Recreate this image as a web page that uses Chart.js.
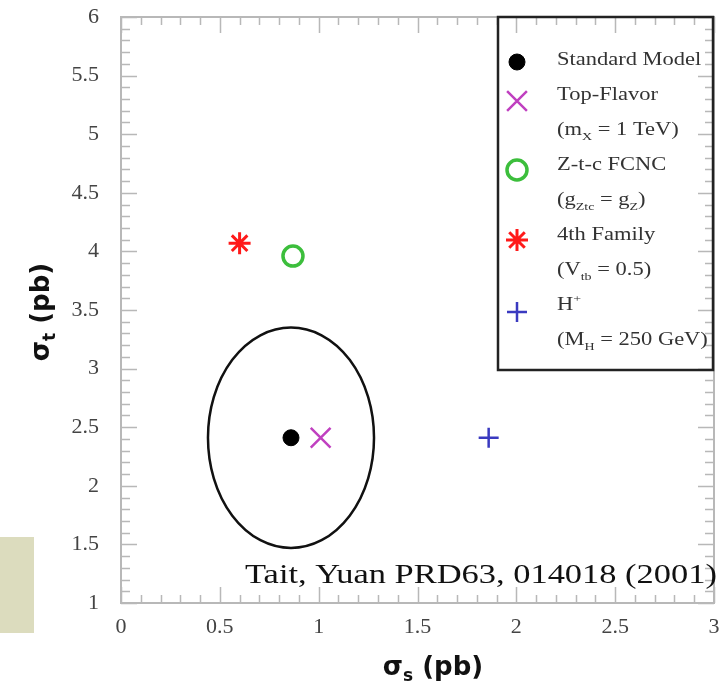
<!DOCTYPE html>
<html>
<head>
<meta charset="utf-8">
<title>sigma_s vs sigma_t</title>
<script src="https://cdn.jsdelivr.net/npm/chart.js@4.4.1/dist/chart.umd.min.js"></script>
<style>
  body { margin: 0; background: #fff; overflow: hidden; }
  #tab { position: absolute; left: 0; top: 537px; width: 34px; height: 96px; background: #dcdcbe; }
  #chart { position: absolute; left: 0; top: 0; }
</style>
</head>
<body>
<div id="tab"></div>
<canvas id="chart" width="721" height="691"></canvas>
<script>
// single-top cross sections: s-channel vs t-channel (pb)
const models = ['Standard Model', 'Top-Flavor', 'Z-t-c FCNC', '4th Family', 'H+'];
const sigmaS = [0.86, 1.01, 0.87, 0.60, 1.86];
const sigmaT = [2.41, 2.41, 3.96, 4.07, 2.41];

// SM uncertainty contour (centre and half-axes, pb)
const contourCenter = [0.86, 2.41];
const contourRadii = [0.42, 0.94];

const xTicks = [0, 0.5, 1, 1.5, 2, 2.5, 3];
const yTicks = [1, 1.5, 2, 2.5, 3, 3.5, 4, 4.5, 5, 5.5, 6];
const minorStep = 0.1;

const markers = [
  { style: 'circle',   r: 8,  lw: 1,   color: '#000000', fill: '#000000' },
  { style: 'crossRot', r: 14, lw: 2.5, color: '#c040c0', fill: 'transparent' },
  { style: 'circle',   r: 10, lw: 3.5, color: '#3cbe3c', fill: 'transparent' },
  { style: 'star',     r: 11, lw: 3,   color: '#ff1a1a', fill: 'transparent' },
  { style: 'cross',    r: 10, lw: 2.5, color: '#3a3ac0', fill: 'transparent' }
];

const legendLines = [
  [['Standard Model']],
  [['Top-Flavor']],
  [['(m'], ['X', 'sub'], [' = 1 TeV)']],
  [['Z-t-c FCNC']],
  [['(g'], ['Ztc', 'sub'], [' = g'], ['Z', 'sub'], [')']],
  [['4th Family']],
  [['(V'], ['tb', 'sub'], [' = 0.5)']],
  [['H'], ['+', 'sup']],
  [['(M'], ['H', 'sub'], [' = 250 GeV)']]
];
const legendMarkerY = [62, 101, 170, 240, 312];

const serif = '"Liberation Serif", "Times New Roman", serif';
const sans = '"DejaVu Sans", Verdana, sans-serif';

// draws [text, 'sub'|'sup'] pieces left to right, stretched horizontally
function richText(ctx, parts, x, y, size, stretch, color) {
  ctx.save();
  ctx.translate(x, y);
  ctx.scale(stretch, 1);
  ctx.fillStyle = color;
  ctx.textBaseline = 'alphabetic';
  ctx.textAlign = 'left';
  let cx = 0;
  parts.forEach(p => {
    const kind = p[1];
    const fs = kind ? size * 0.62 : size;
    const dy = kind === 'sub' ? size * 0.28 : kind === 'sup' ? -size * 0.42 : 0;
    ctx.font = fs + 'px ' + serif;
    ctx.fillText(p[0], cx, dy);
    cx += ctx.measureText(p[0]).width;
  });
  ctx.restore();
}

function drawMarker(ctx, m, x, y) {
  ctx.save();
  ctx.fillStyle = m.fill;
  ctx.strokeStyle = m.color;
  ctx.lineWidth = m.lw;
  Chart.helpers.drawPoint(ctx, { pointStyle: m.style, radius: m.r, rotation: 0, borderWidth: m.lw }, x, y);
  ctx.restore();
}

const framePlugin = {
  id: 'frame',
  beforeDatasetsDraw(chart) {
    const { ctx, chartArea: a, scales: { x, y } } = chart;
    ctx.save();
    ctx.strokeStyle = '#b8b8b8';
    ctx.lineWidth = 2;
    ctx.strokeRect(a.left, a.top, a.right - a.left, a.bottom - a.top);
    ctx.lineWidth = 1.5;
    ctx.beginPath();
    for (let v = xTicks[0]; v <= xTicks[xTicks.length - 1] + 1e-9; v += minorStep) {
      const val = Math.round(v * 10) / 10;
      const len = xTicks.includes(val) ? 16 : 8;
      const px = Math.round(x.getPixelForValue(val)) + 0.5;
      ctx.moveTo(px, a.bottom); ctx.lineTo(px, a.bottom - len);
      ctx.moveTo(px, a.top); ctx.lineTo(px, a.top + len);
    }
    for (let v = yTicks[0]; v <= yTicks[yTicks.length - 1] + 1e-9; v += minorStep) {
      const val = Math.round(v * 10) / 10;
      const len = yTicks.includes(val) ? 16 : 9;
      const py = Math.round(y.getPixelForValue(val)) + 0.5;
      ctx.moveTo(a.left, py); ctx.lineTo(a.left + len, py);
      ctx.moveTo(a.right, py); ctx.lineTo(a.right - len, py);
    }
    ctx.stroke();

    // SM contour
    const cx = x.getPixelForValue(contourCenter[0]);
    const cy = y.getPixelForValue(contourCenter[1]);
    const rx = x.getPixelForValue(contourCenter[0] + contourRadii[0]) - cx;
    const ry = cy - y.getPixelForValue(contourCenter[1] + contourRadii[1]);
    ctx.strokeStyle = '#111';
    ctx.lineWidth = 2.5;
    ctx.beginPath();
    ctx.ellipse(cx, cy, rx, ry, 0, 0, Math.PI * 2);
    ctx.stroke();
    ctx.restore();
  },
  afterDatasetsDraw(chart) {
    const { ctx, chartArea: a } = chart;
    ctx.save();

    // legend box
    ctx.strokeStyle = '#222';
    ctx.lineWidth = 2.5;
    ctx.strokeRect(498, a.top, a.right - 1 - 498, 370 - a.top);
    legendMarkerY.forEach((my, i) => drawMarker(ctx, markers[i], 517, my));
    legendLines.forEach((parts, i) => richText(ctx, parts, 557, 65 + 35 * i, 18, 1.25, '#333'));

    // reference
    richText(ctx, [['Tait, Yuan PRD63, 014018 (2001)']], 245, 583, 27, 1.275, '#111');

    // axis titles
    ctx.fillStyle = '#111';
    ctx.textBaseline = 'alphabetic';
    const title = (sub) => {
      ctx.font = 'bold 26px ' + sans;
      const w1 = ctx.measureText('σ').width;
      const w3 = ctx.measureText(' (pb)').width;
      ctx.font = 'bold 17px ' + sans;
      const w2 = ctx.measureText(sub).width;
      let px = -(w1 + w2 + w3) / 2;
      ctx.font = 'bold 26px ' + sans;
      ctx.fillText('σ', px, 9); px += w1;
      ctx.font = 'bold 17px ' + sans;
      ctx.fillText(sub, px, 15); px += w2;
      ctx.font = 'bold 26px ' + sans;
      ctx.fillText(' (pb)', px, 9);
    };
    ctx.save();
    ctx.translate(433, 666);
    title('s');
    ctx.restore();
    ctx.save();
    ctx.translate(40, 312);
    ctx.rotate(-Math.PI / 2);
    title('t');
    ctx.restore();
    ctx.restore();
  }
};

new Chart(document.getElementById('chart'), {
  type: 'scatter',
  data: {
    datasets: models.map((name, i) => ({
      label: name,
      data: [{ x: sigmaS[i], y: sigmaT[i] }],
      pointStyle: markers[i].style,
      pointRadius: markers[i].r,
      pointHoverRadius: markers[i].r,
      pointBorderWidth: markers[i].lw,
      pointBorderColor: markers[i].color,
      pointBackgroundColor: markers[i].fill
    }))
  },
  options: {
    responsive: false,
    animation: false,
    layout: { autoPadding: false, padding: { top: 17, right: 7, left: 0, bottom: 0 } },
    plugins: { legend: { display: false }, tooltip: { enabled: false } },
    scales: {
      x: {
        type: 'linear', min: xTicks[0], max: xTicks[xTicks.length - 1],
        grid: { display: false, drawTicks: false }, border: { display: false },
        afterBuildTicks: s => { s.ticks = xTicks.map(v => ({ value: v })); },
        ticks: { padding: 11, color: '#444', maxRotation: 0, autoSkip: false,
                 font: { family: serif, size: 22 }, callback: v => String(v) },
        afterFit: s => { s.height = 88; s.paddingLeft = 0; s.paddingRight = 0; }
      },
      y: {
        type: 'linear', min: yTicks[0], max: yTicks[yTicks.length - 1],
        grid: { display: false, drawTicks: false }, border: { display: false },
        afterBuildTicks: s => { s.ticks = yTicks.map(v => ({ value: v })); },
        ticks: { padding: 22, color: '#444', autoSkip: false,
                 font: { family: serif, size: 22 }, callback: v => String(v) },
        afterFit: s => { s.width = 121; s.paddingTop = 0; s.paddingBottom = 0; }
      }
    }
  },
  plugins: [framePlugin]
});
</script>
</body>
</html>
